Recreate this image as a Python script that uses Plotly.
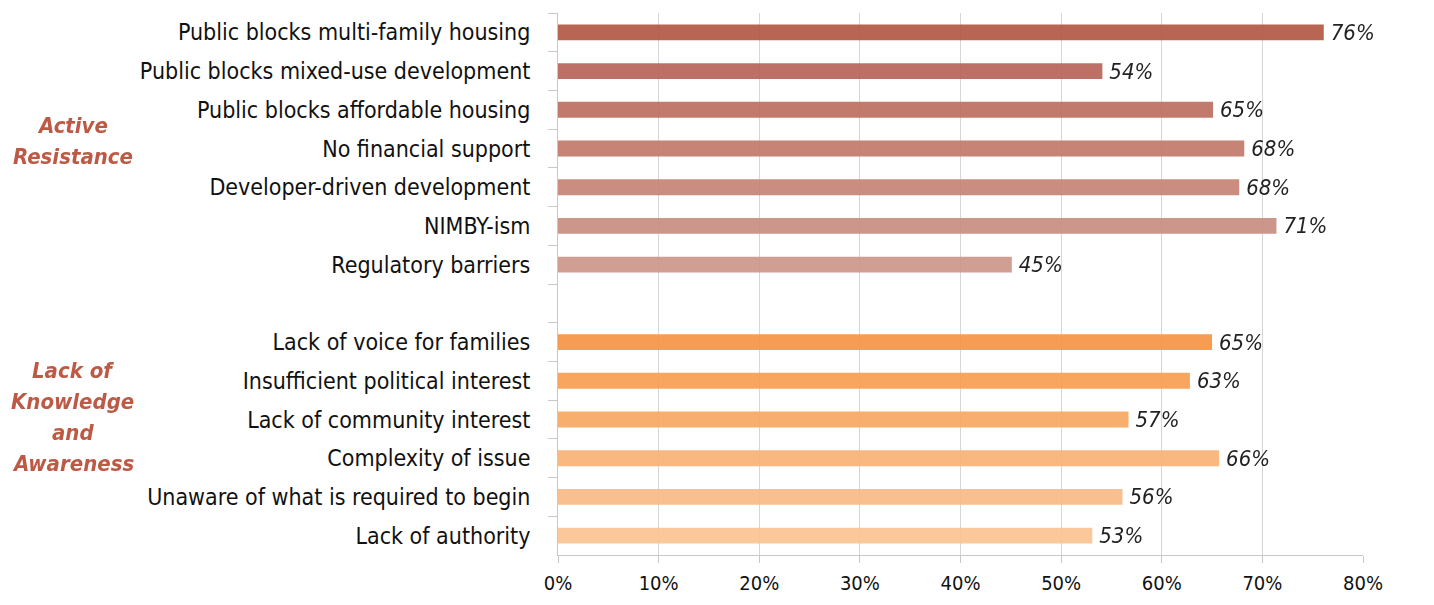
import plotly.graph_objects as go

categories = [
    "Public blocks multi-family housing",
    "Public blocks mixed-use development",
    "Public blocks affordable housing",
    "No financial support",
    "Developer-driven development",
    "NIMBY-ism",
    "Regulatory barriers",
    " ",
    "Lack of voice for families",
    "Insufficient political interest",
    "Lack of community interest",
    "Complexity of issue",
    "Unaware of what is required to begin",
    "Lack of authority",
]
values = [76.1, 54.1, 65.1, 68.2, 67.7, 71.4, 45.1, None, 65.0, 62.8, 56.7, 65.7, 56.1, 53.1]
group_a_lines = ["Active", "Resistance"]
group_b_lines = ["Lack of", "Knowledge", "and", "Awareness"]
x_ticks = [0, 10, 20, 30, 40, 50, 60, 70, 80]
x_tick_text = ["0%", "10%", "20%", "30%", "40%", "50%", "60%", "70%", "80%"]

bar_colors = [
    "#B45A47", "#B9665A", "#BE7062", "#C27A6C", "#C68576", "#CA8F82", "#CE978B",
    "#FFFFFF",
    "#F79646", "#F89F53", "#F8A964", "#F9B376", "#F9BB86", "#FAC493",
]

FONT = "DejaVu Sans Condensed, Liberation Sans Narrow, Arial Narrow, sans-serif"
GROUP_COLOR = "#BD5A45"

fig = go.Figure()
fig.add_trace(go.Bar(
    y=categories,
    x=values,
    orientation="h",
    marker=dict(color=bar_colors, line=dict(width=0)),
    opacity=0.93,
    texttemplate="\u2009<i>%{x:.0f}%</i>",
    textposition="outside",
    constraintext="none",
    textfont=dict(family=FONT, size=22, color="#111111"),
    cliponaxis=False,
    hoverinfo="skip",
))

# group label placement (pixel rows within the 542px-tall plot area)
PLOT_TOP, PLOT_H = 13, 542
LINE_STEP = 31
annotations = []
for lines, first_row in ((group_a_lines, 126), (group_b_lines, 370)):
    for i, line in enumerate(lines):
        ypix = first_row + i * LINE_STEP
        annotations.append(dict(
            text="<b><i>" + line + "</i></b>", xref="paper", yref="paper",
            x=-0.603, y=1 - (ypix - PLOT_TOP) / PLOT_H,
            xanchor="center", yanchor="middle", showarrow=False,
            font=dict(family=FONT, size=22, color=GROUP_COLOR),
        ))

fig.update_layout(
    width=1434, height=605,
    margin=dict(l=550, r=79, t=5, b=58),
    plot_bgcolor="white", paper_bgcolor="white",
    bargap=0.59,
    showlegend=False,
    font=dict(family=FONT, color="#111111"),
    xaxis=dict(
        range=[0, 80],
        tickvals=x_ticks, ticktext=x_tick_text,
        showgrid=True, gridcolor="#D6D6D6", gridwidth=1,
        showline=True, linecolor="#C8C8C8", linewidth=1,
        ticks="outside", ticklen=7, tickcolor="#C8C8C8",
        tickfont=dict(family=FONT, size=20, color="#111111"),
        ticklabelstandoff=3,
        zeroline=False,
        fixedrange=True,
    ),
    yaxis=dict(
        categoryorder="array", categoryarray=categories,
        autorange="reversed",
        showgrid=False,
        showline=True, linecolor="#C8C8C8", linewidth=1,
        ticks="outside", tickson="boundaries", ticklen=9, tickcolor="#C8C8C8",
        tickfont=dict(family=FONT, size=23, color="#111111"),
        ticklabelstandoff=22,
    ),
    annotations=annotations,
)

fig.write_html("out.html")
